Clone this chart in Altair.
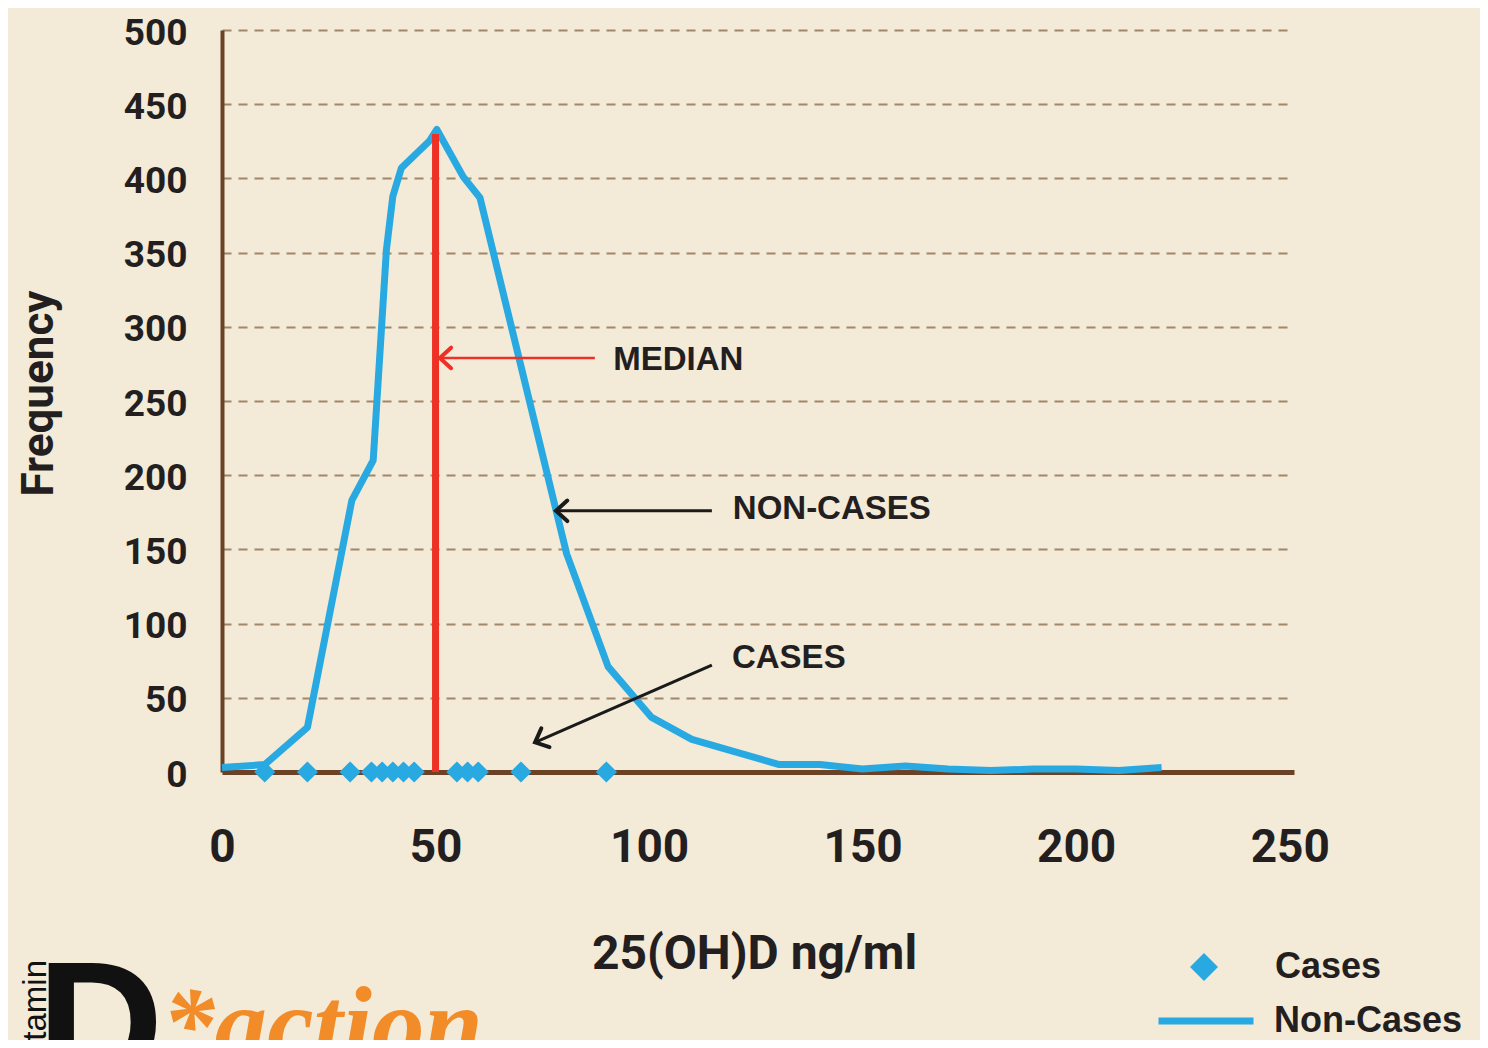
import altair as alt
import pandas as pd

# ---------------- data ----------------
noncase_x = [0, 10, 20, 30.4, 35.4, 38.5, 40, 42, 48.5, 50.3, 56.5, 60.4, 80.7,
             90.4, 100.5, 110, 130.5, 140, 150, 160, 170, 180, 190, 200, 210, 220]
noncase_y = [3, 5, 30, 183, 210, 352, 388, 407, 425, 433, 401, 387, 147,
             71, 37, 22, 5, 5, 2, 4, 2, 1, 2, 2, 1, 3]
case_x = [10, 20, 30, 35, 37.5, 40, 42.5, 45, 55, 57.5, 60, 70, 90]
case_y = [0] * len(case_x)
median_x = [50]
median_top = [430]

x_ticks = [0, 50, 100, 150, 200, 250]
y_ticks = [0, 50, 100, 150, 200, 250, 300, 350, 400, 450, 500]

ann_label = ["MEDIAN", "NON-CASES", "CASES"]
ann_text_x = [91.6, 119.6, 119.4]
ann_text_y = [277.6, 177, 77]
arrow_x_from = [87.3, 114.7, 114.7]
arrow_y_from = [279, 176, 72]
arrow_x_to = [51, 78.2, 73.3]
arrow_y_to = [279, 176, 20]
arrow_kind = ["median", "other", "other"]
arrow_angle = [0, 0, 336.5]

# ---------------- styling ----------------
BG = "#F3EAD8"
BLUE = "#29A9E1"
RED = "#EE3124"
BROWN = "#6B4226"
INK = "#231F20"
COND = "Roboto, Liberation Sans, sans-serif"
SANS = "Liberation Sans, Arial, Helvetica, sans-serif"

xscale = alt.Scale(domain=[0, 251], nice=False, zero=True)
yscale = alt.Scale(domain=[0, 500], nice=False)

noncase_df = pd.DataFrame({"x": noncase_x, "y": noncase_y, "line_series": "Non-Cases"})
case_df = pd.DataFrame({"x": case_x, "y": case_y, "case_series": "Cases"})
median_df = pd.DataFrame({"x": median_x, "y": [0], "y2": median_top})
arrow_df = pd.DataFrame({"x": arrow_x_from, "y": arrow_y_from, "x2": arrow_x_to,
                         "y2": arrow_y_to, "kind": arrow_kind, "angle": arrow_angle})
text_df = pd.DataFrame({"x": ann_text_x, "y": ann_text_y, "label": ann_label})

x_axis = alt.Axis(values=x_ticks, title="25(OH)D ng/ml", grid=False, ticks=False, tickSize=0,
                  labelFont=COND, labelFontSize=46, labelFontWeight="bold", labelColor=INK,
                  labelPadding=53, labelBaseline="top", labelFlush=False,
                  domainColor=BROWN, domainWidth=5,
                  titleFont=COND, titleFontSize=48, titleFontWeight="bold", titleColor=INK,
                  titleBaseline="alphabetic", titleAlign="center", titleX=532, titleY=196)
y_axis = alt.Axis(values=y_ticks, title="Frequency", grid=True, gridColor="#A0876A",
                  gridWidth=2, gridDash=[9, 7], ticks=False, tickSize=0,
                  labelFont=COND, labelFontSize=37, labelFontWeight="bold", labelColor=INK,
                  labelPadding=35, labelOffset=3, domainColor=BROWN, domainWidth=4,
                  titleFont=COND, titleFontSize=44, titleFontWeight="bold", titleColor=INK,
                  titleAngle=270, titleBaseline="alphabetic", titleAlign="center",
                  titleX=-170, titleY=363)

line = alt.Chart(noncase_df).mark_line(strokeWidth=7, strokeJoin="round").encode(
    x=alt.X("x:Q", scale=xscale, axis=x_axis),
    y=alt.Y("y:Q", scale=yscale, axis=y_axis),
    color=alt.Color("line_series:N", scale=alt.Scale(domain=["Non-Cases"], range=[BLUE]),
                    legend=alt.Legend(orient="none", legendX=933, legendY=940, title=None,
                                      padding=0, symbolType="stroke", symbolSize=9025,
                                      symbolStrokeWidth=7, symbolStrokeColor=BLUE,
                                      labelOffset=17, labelFont=SANS, labelFontSize=36,
                                      labelFontWeight="bold", labelColor=INK, labelLimit=0)),
)

median = alt.Chart(median_df).mark_rule(color=RED, strokeWidth=7).encode(
    x=alt.X("x:Q", scale=xscale), y=alt.Y("y:Q", scale=yscale), y2="y2:Q"
)

points = alt.Chart(case_df).mark_point(filled=True, size=450, color=BLUE, opacity=1).encode(
    x=alt.X("x:Q", scale=xscale),
    y=alt.Y("y:Q", scale=yscale),
    shape=alt.Shape("case_series:N", scale=alt.Scale(domain=["Cases"], range=["diamond"]),
                    legend=alt.Legend(orient="none", legendX=964, legendY=919, title=None,
                                      padding=0, symbolSize=784, symbolFillColor=BLUE,
                                      symbolStrokeColor=BLUE, symbolStrokeWidth=0,
                                      labelOffset=53, labelFont=SANS, labelFontSize=36,
                                      labelFontWeight="bold", labelColor=INK, labelLimit=0)),
)

HEAD = "M1.1,-1L0,0L1.1,1"


def arrow_layers(kind, colour, shaft_w):
    base = alt.Chart(arrow_df).transform_filter(alt.datum.kind == kind)
    shaft = base.mark_rule(color=colour, strokeWidth=shaft_w).encode(
        x=alt.X("x:Q", scale=xscale), y=alt.Y("y:Q", scale=yscale), x2="x2:Q", y2="y2:Q"
    )
    head = base.mark_point(shape=HEAD, filled=False, size=420, strokeWidth=4, opacity=1,
                           color=colour, strokeCap="round").encode(
        x=alt.X("x2:Q", scale=xscale), y=alt.Y("y2:Q", scale=yscale),
        angle=alt.Angle("angle:Q", scale=None),
    )
    return [shaft, head]


red_arrow = arrow_layers("median", RED, 2.5)
black_arrows = arrow_layers("other", "#1A1A1A", 3)

labels = alt.Chart(text_df).mark_text(align="left", baseline="middle", font=SANS, fontSize=33,
                                       fontWeight="bold", color=INK).encode(
    x=alt.X("x:Q", scale=xscale), y=alt.Y("y:Q", scale=yscale), text="label:N"
)

# logo (partially cut off at the bottom edge, as in the reference)
logo_v = alt.Chart(pd.DataFrame({"t": ["Vitamin"]})).mark_text(
    angle=270, align="right", baseline="alphabetic", font=SANS, fontSize=33, color="#111111"
).encode(x=alt.value(-176), y=alt.value(930), text="t:N")
logo_d = alt.Chart(pd.DataFrame({"t": ["D"]})).mark_text(
    align="left", baseline="alphabetic", font=SANS, fontSize=175, fontWeight="bold", color="#111111"
).encode(x=alt.value(-185), y=alt.value(1053), text="t:N")
logo_a = alt.Chart(pd.DataFrame({"t": ["*action"]})).mark_text(
    align="left", baseline="alphabetic", font="Liberation Serif, DejaVu Serif, serif",
    fontSize=105, fontWeight="bold", fontStyle="italic", color="#F28C28"
).encode(x=alt.value(-60), y=alt.value(1030), text="t:N")

chart = alt.layer(line, median, points, *red_arrow, *black_arrows, labels,
                  logo_v, logo_d, logo_a).properties(
    width=1072, height=742,
    autosize=alt.AutoSizeParams(type="none"),
    padding={"left": 214, "top": 22, "right": 186, "bottom": 268},
    background=BG,
).configure_view(strokeWidth=0)

chart.save("out.html", embed_options={"renderer": "svg", "actions": False})
